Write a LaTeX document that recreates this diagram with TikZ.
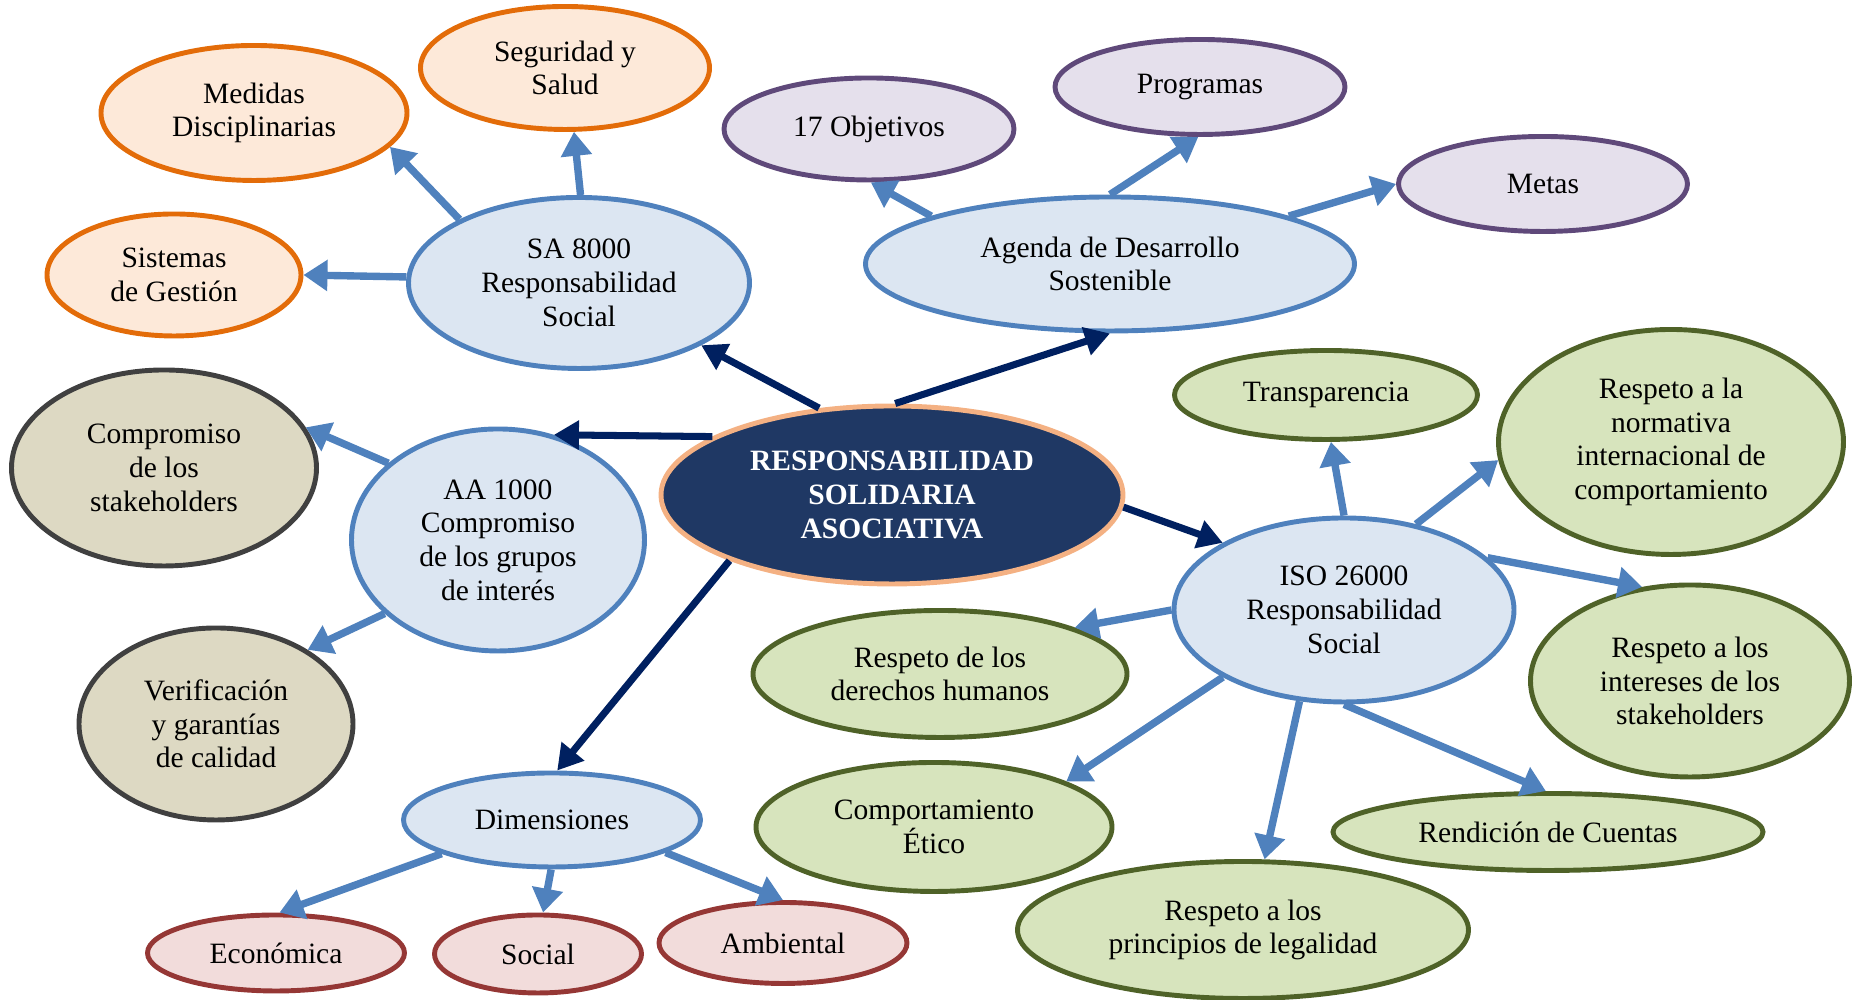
\documentclass[tikz,border=0pt]{standalone}
\usepackage{fontspec}
\setmainfont{Liberation Serif}
\usepackage{xcolor}
\usepackage{tikz}
\usetikzlibrary{shapes.geometric, arrows.meta}
\definecolor{hubfill}{RGB}{31, 56, 100}
\definecolor{hubline}{RGB}{244, 177, 131}
\definecolor{hubarrow}{RGB}{0, 32, 96}
\definecolor{stdfill}{RGB}{220, 230, 242}
\definecolor{stdline}{RGB}{79, 129, 189}
\definecolor{orangefill}{RGB}{253, 233, 217}
\definecolor{orangeline}{RGB}{227, 108, 9}
\definecolor{purplefill}{RGB}{229, 224, 236}
\definecolor{purpleline}{RGB}{95, 73, 122}
\definecolor{grayfill}{RGB}{221, 217, 195}
\definecolor{grayline}{RGB}{64, 64, 64}
\definecolor{redfill}{RGB}{242, 220, 219}
\definecolor{redline}{RGB}{149, 55, 53}
\definecolor{greenfill}{RGB}{215, 228, 189}
\definecolor{greenline}{RGB}{79, 98, 40}

\begin{document}
\begin{tikzpicture}[
    bubble/.style={ellipse, line width=1.4pt, inner sep=0pt, align=center, font=\fontsize{8.4}{9.6}\selectfont},
    hub/.style={bubble, draw=hubline, fill=hubfill, text=white, font=\fontsize{8.4}{9.6}\selectfont\bfseries},
    std/.style={bubble, draw=stdline, fill=stdfill},
    sub/.style={bubble, draw=#1line, fill=#1fill},
    link/.style={-{Triangle[length=2.5mm, width=2.8mm]}, line width=2pt, color=hubarrow},
    arrow/.style={-{Triangle[length=2.4mm, width=3mm]}, line width=2.1pt, color=stdline}
]
    \useasboundingbox (0,0) rectangle (18.58,10);

    % centre
    \node[hub, minimum width=4.62cm, minimum height=1.78cm] (rsa) at (8.92,5.05) {RESPONSABILIDAD\\SOLIDARIA\\ASOCIATIVA};

    % SA 8000
    \node[std, minimum width=3.41cm, minimum height=1.71cm] (sa) at (5.79,7.17) {SA 8000\\Responsabilidad\\Social};
    \node[sub=orange, minimum width=3.06cm, minimum height=1.35cm] (medidas) at (2.54,8.87) {Medidas\\Disciplinarias};
    \node[sub=orange, minimum width=2.89cm, minimum height=1.23cm] (seguridad) at (5.65,9.32) {Seguridad y\\Salud};
    \node[sub=orange, minimum width=2.54cm, minimum height=1.22cm] (sistemas) at (1.74,7.25) {Sistemas\\de Gestión};

    % Agenda
    \node[std, minimum width=4.89cm, minimum height=1.34cm] (agenda) at (11.10,7.36) {Agenda de Desarrollo\\Sostenible};
    \node[sub=purple, minimum width=2.90cm, minimum height=1.02cm] (objetivos) at (8.69,8.71) {17 Objetivos};
    \node[sub=purple, minimum width=2.90cm, minimum height=0.95cm] (programas) at (12.00,9.13) {Programas};
    \node[sub=purple, minimum width=2.89cm, minimum height=0.95cm] (metas) at (15.43,8.16) {Metas};

    % AA 1000
    \node[std, minimum width=2.93cm, minimum height=2.22cm] (aa) at (4.98,4.60) {AA 1000\\Compromiso\\de los grupos\\de interés};
    \node[sub=gray, minimum width=3.05cm, minimum height=1.96cm] (compromiso) at (1.64,5.32) {Compromiso\\de los\\stakeholders};
    \node[sub=gray, minimum width=2.74cm, minimum height=1.92cm] (verificacion) at (2.16,2.76) {Verificación\\y garantías\\de calidad};

    % Dimensiones
    \node[std, minimum width=2.97cm, minimum height=0.94cm] (dim) at (5.52,1.80) {Dimensiones};
    \node[sub=red, minimum width=2.57cm, minimum height=0.76cm] (economica) at (2.76,0.47) {Económica};
    \node[sub=red, minimum width=2.07cm, minimum height=0.78cm] (social) at (5.38,0.46) {Social};
    \node[sub=red, minimum width=2.48cm, minimum height=0.81cm] (ambiental) at (7.83,0.57) {Ambiental};

    % ISO 26000
    \node[std, minimum width=3.40cm, minimum height=1.84cm] (iso) at (13.44,3.90) {ISO 26000\\Responsabilidad\\Social};
    \node[sub=green, minimum width=3.03cm, minimum height=0.89cm] (transparencia) at (13.26,6.05) {Transparencia};
    \node[sub=green, minimum width=3.45cm, minimum height=2.25cm] (normativa) at (16.71,5.58) {Respeto a la\\normativa\\internacional de\\comportamiento};
    \node[sub=green, minimum width=3.19cm, minimum height=1.92cm] (intereses) at (16.90,3.19) {Respeto a los\\intereses de los\\stakeholders};
    \node[sub=green, minimum width=3.74cm, minimum height=1.27cm] (derechos) at (9.40,3.26) {Respeto de los\\derechos humanos};
    \node[sub=green, minimum width=3.56cm, minimum height=1.29cm] (etico) at (9.34,1.73) {Comportamiento\\Ético};
    \node[sub=green, minimum width=4.51cm, minimum height=1.37cm] (legalidad) at (12.43,0.70) {Respeto a los\\principios de legalidad};
    \node[sub=green, minimum width=4.30cm, minimum height=0.77cm] (rendicion) at (15.48,1.68) {Rendición de Cuentas};

    % centre links
    \draw[link] (rsa.130) -- (sa.-27);
    \draw[link] (rsa.88) -- (agenda.-90);
    \draw[link] (rsa.162) -- (aa.62);
    \draw[link] (rsa.-3) -- (iso.151);
    \draw[link] (rsa.-158) -- (dim.84);

    % branches
    \draw[arrow] (sa.152) -- (medidas.-14);
    \draw[arrow] (sa.89) -- (seguridad.-82);
    \draw[arrow] (sa.178) -- (sistemas.0);
    \draw[arrow] (agenda.165) -- (objetivos.-88);
    \draw[arrow] (agenda.90) -- (programas.-92);
    \draw[arrow] (agenda.15) -- (metas.180);
    \draw[arrow] (aa.145) -- (compromiso.16);
    \draw[arrow] (aa.-147) -- (verificacion.39);
    \draw[arrow] (dim.-163) -- (economica.85);
    \draw[arrow] (dim.-91) -- (social.83);
    \draw[arrow] (dim.-16) -- (ambiental.90);
    \draw[arrow] (iso.90) -- (transparencia.-84);
    \draw[arrow] (iso.50) -- (normativa.-174);
    \draw[arrow] (iso.20) -- (intereses.117);
    \draw[arrow] (iso.180) -- (derechos.19);
    \draw[arrow] (iso.-151) -- (etico.19);
    \draw[arrow] (iso.-116) -- (legalidad.73);
    \draw[arrow] (iso.-90) -- (rendicion.93);
\end{tikzpicture}
\end{document}
